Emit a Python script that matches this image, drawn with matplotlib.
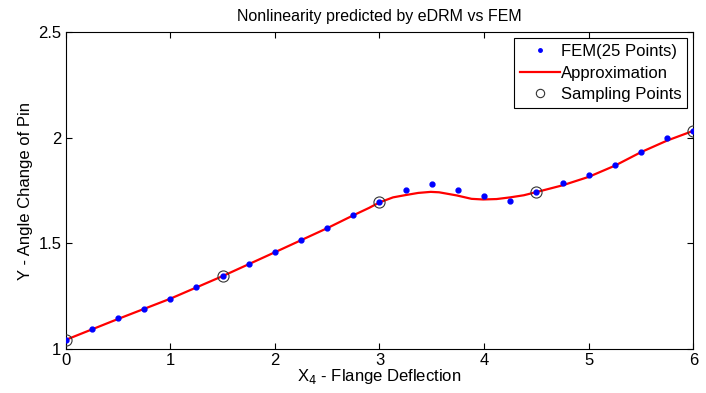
import numpy as np
import matplotlib
matplotlib.use('Agg')
import matplotlib.pyplot as plt

plt.rcParams['font.family'] = ['Liberation Sans', 'DejaVu Sans']

# FEM results (25 points)
fem_x = np.arange(0, 6.01, 0.25)
fem_y = [1.043, 1.095, 1.145, 1.190, 1.235, 1.292, 1.345, 1.402, 1.460,
         1.514, 1.572, 1.635, 1.694, 1.755, 1.780, 1.751, 1.725, 1.702,
         1.743, 1.785, 1.826, 1.872, 1.932, 1.998, 2.033]

# eDRM approximation curve
approx_x = [0.0, 0.5, 1.0, 1.5, 2.0, 2.5, 2.75, 2.9, 3.0, 3.13, 3.24, 3.37,
            3.49, 3.57, 3.74, 3.88, 3.99, 4.12, 4.25, 4.38, 4.5, 4.75, 5.0,
            5.25, 5.5, 5.75, 6.0]
approx_y = [1.043, 1.142, 1.238, 1.345, 1.458, 1.572, 1.633, 1.668, 1.694,
            1.718, 1.728, 1.739, 1.744, 1.742, 1.727, 1.711, 1.708, 1.710,
            1.718, 1.728, 1.743, 1.775, 1.815, 1.868, 1.932, 1.987, 2.033]

# sampling points
samp_x = [0, 1.5, 3, 4.5, 6]
samp_y = [1.043, 1.345, 1.694, 1.743, 2.033]

fig = plt.figure(figsize=(7.06, 3.93), dpi=100)
ax = fig.add_axes([0.093, 0.112, 0.889, 0.806])

ax.plot(fem_x, fem_y, '.', color='#0000ff', markersize=7, label='FEM(25 Points)', zorder=3)
ax.plot(approx_x, approx_y, '-', color='#ff0000', linewidth=1.6, label='Approximation', zorder=2)
ax.plot(samp_x, samp_y, 'o', markerfacecolor='none', markeredgecolor='#333333',
        markersize=8, markeredgewidth=0.8, label='Sampling Points', zorder=4)

ax.set_xlim(0, 6)
ax.set_ylim(1, 2.5)
ax.set_xticks([0, 1, 2, 3, 4, 5, 6])
ax.set_yticks([1, 1.5, 2, 2.5])
ax.set_yticklabels(['1', '1.5', '2', '2.5'])
ax.tick_params(direction='in', top=True, right=True, length=4, labelsize=12, width=0.8, pad=3)
for s in ax.spines.values():
    s.set_linewidth(0.8)

ax.set_title('Nonlinearity predicted by eDRM vs FEM', fontsize=11.5, pad=8)
ax.set_xlabel('X$_4$ - Flange Deflection', fontsize=12, labelpad=-1)
ax.set_ylabel('Y - Angle Change of Pin', fontsize=12, labelpad=4)

leg = ax.legend(loc='upper right', fontsize=12, fancybox=False, framealpha=1,
                edgecolor='black', handlelength=2.4, handletextpad=0.05,
                labelspacing=0.4, borderaxespad=0.35, borderpad=0.35)
leg.get_frame().set_linewidth(0.8)
leg.legend_handles[0].set_markersize(5)
leg.legend_handles[2].set_markersize(6)

fig.savefig('out.png', dpi=100)
